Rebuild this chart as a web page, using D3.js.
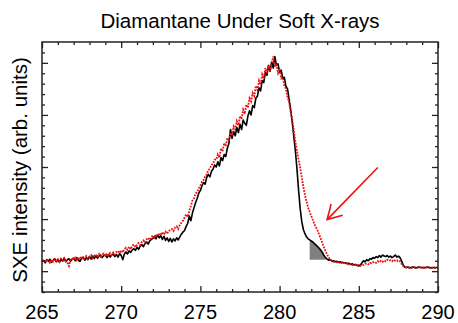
<!DOCTYPE html>
<html>
<head>
<meta charset="utf-8">
<script src="https://cdn.jsdelivr.net/npm/d3@7"></script>
<style>
  body { margin: 0; background: #fff; }
  text { font-family: "Liberation Sans", Arial, Helvetica, sans-serif; fill: #000; }
</style>
</head>
<body>
<div id="chart"></div>
<script>
// energy grid, 265 -> 290 eV every 0.1
var energy = d3.range(0, 251).map(function(i) { return +(265 + i * 0.1).toFixed(1); });

// black curve (one row per eV)
var blackSpectrum = [
  0.18,0.21,0.16,0.22,0.19,0.23,0.17,0.21,0.24,0.18,
  0.22,0.17,0.23,0.19,0.25,0.18,0.22,0.24,0.19,0.23,
  0.25,0.20,0.26,0.21,0.19,0.25,0.27,0.21,0.26,0.22,
  0.28,0.23,0.29,0.24,0.30,0.25,0.29,0.31,0.26,0.30,
  0.31,0.26,0.32,0.27,0.31,0.33,0.28,0.32,0.27,0.34,
  0.30,0.22,0.33,0.37,0.33,0.39,0.36,0.41,0.43,0.40,
  0.46,0.42,0.48,0.51,0.47,0.53,0.56,0.52,0.58,0.61,
  0.63,0.67,0.62,0.70,0.64,0.68,0.61,0.67,0.59,0.64,
  0.57,0.63,0.56,0.62,0.58,0.64,0.60,0.66,0.71,0.75,
  0.78,0.86,0.92,1.06,0.97,1.12,1.22,1.32,1.40,1.50,
  1.55,1.64,1.70,1.67,1.80,1.86,1.81,1.92,1.96,2.04,
  2.00,2.10,2.02,2.18,2.12,2.24,2.20,2.36,2.45,2.72,
  2.55,2.68,2.60,2.76,2.66,2.82,2.72,2.90,2.84,2.80,
  2.98,3.08,3.00,3.18,3.14,3.32,3.36,3.52,3.46,3.66,
  3.62,3.82,3.76,3.95,3.84,4.02,3.90,4.12,3.95,3.98,
  3.82,3.86,3.70,3.72,3.55,3.50,3.30,3.10,2.85,2.58,
  2.30,1.95,1.55,1.20,0.95,0.80,0.72,0.66,0.62,0.60,
  0.58,0.56,0.53,0.50,0.47,0.44,0.40,0.36,0.30,0.26,
  0.23,0.21,0.22,0.19,0.20,0.18,0.19,0.17,0.18,0.16,
  0.17,0.15,0.16,0.14,0.15,0.13,0.14,0.12,0.13,0.11,
  0.10,0.12,0.16,0.20,0.18,0.22,0.20,0.24,0.23,0.26,
  0.25,0.28,0.26,0.30,0.27,0.31,0.29,0.28,0.30,0.27,
  0.29,0.26,0.28,0.31,0.27,0.29,0.26,0.20,0.12,0.08,
  0.07,0.08,0.06,0.07,0.08,0.07,0.06,0.07,0.08,0.07,
  0.07,0.06,0.07,0.08,0.07,0.06,0.07,0.07,0.06,0.07,
  0.07
];

// red dotted curve
var redSpectrum = [
  0.19,0.22,0.17,0.23,0.20,0.16,0.22,0.18,0.23,0.20,
  0.23,0.18,0.24,0.20,0.25,0.19,0.17,0.10,0.22,0.24,
  0.22,0.26,0.21,0.27,0.23,0.28,0.22,0.27,0.29,0.24,
  0.28,0.31,0.25,0.30,0.32,0.27,0.33,0.28,0.32,0.34,
  0.29,0.34,0.30,0.35,0.31,0.36,0.32,0.37,0.39,0.35,
  0.40,0.36,0.42,0.45,0.41,0.47,0.42,0.49,0.51,0.46,
  0.51,0.54,0.50,0.56,0.59,0.55,0.61,0.64,0.60,0.66,
  0.68,0.64,0.71,0.67,0.73,0.69,0.75,0.70,0.76,0.72,
  0.77,0.79,0.81,0.77,0.84,0.86,0.81,0.89,0.93,0.97,
  1.03,1.09,1.04,1.16,1.25,1.36,1.40,1.49,1.52,1.59,
  1.64,1.72,1.75,1.82,1.86,1.94,1.97,2.04,2.06,2.14,
  2.14,2.24,2.18,2.36,2.30,2.46,2.40,2.56,2.50,2.66,
  2.60,2.78,2.72,2.88,2.80,2.98,2.92,3.10,3.02,3.20,
  3.14,3.32,3.26,3.42,3.36,3.56,3.48,3.66,3.58,3.78,
  3.70,3.90,3.80,3.96,3.84,4.00,4.12,3.92,3.98,3.80,
  3.86,3.70,3.72,3.56,3.50,3.34,3.24,3.04,2.92,2.70,
  2.48,2.30,2.14,1.98,1.80,1.62,1.46,1.34,1.22,1.14,
  1.06,0.98,0.90,0.84,0.78,0.70,0.62,0.54,0.46,0.38,
  0.32,0.26,0.22,0.20,0.18,0.19,0.17,0.18,0.16,0.17,
  0.15,0.16,0.14,0.15,0.13,0.14,0.12,0.13,0.12,0.11,
  0.12,0.10,0.13,0.12,0.14,0.15,0.13,0.16,0.15,0.17,
  0.18,0.16,0.19,0.17,0.20,0.18,0.21,0.19,0.22,0.20,
  0.21,0.19,0.22,0.20,0.21,0.18,0.19,0.14,0.10,0.08,
  0.07,0.08,0.07,0.06,0.07,0.08,0.07,0.07,0.06,0.07,
  0.07,0.07,0.06,0.07,0.08,0.07,0.06,0.07,0.07,0.06,
  0.07
];

var xTickLabels = [265, 270, 275, 280, 285, 290];
var yMajorTicks = [0, 1, 2, 3, 4];

// grey shaded region under the black shoulder
var shadeRange = [281.9, 282.9];
var shadeBase = 0.22;

// arrow (data coords): tail -> head
var arrowTail = [286.2, 1.99];
var arrowHead = [283.0, 0.99];

var margin = {top: 42, right: 20, bottom: 31, left: 42};
var width = 458 - margin.left - margin.right;
var height = 323 - margin.top - margin.bottom;

var svg = d3.select("#chart")
  .append("svg")
  .attr("width", 458)
  .attr("height", 323);

var g = svg.append("g")
  .attr("transform", "translate(" + margin.left + "," + margin.top + ")");

var x = d3.scaleLinear().domain([265, 290]).range([0, width]);
var y = d3.scaleLinear().domain([-0.4, 4.4]).range([height, 0]);

var black = energy.map(function(e, i) { return [e, blackSpectrum[i]]; });
var red = energy.map(function(e, i) { return [e, redSpectrum[i]]; });

var line = d3.line()
  .x(function(d) { return x(d[0]); })
  .y(function(d) { return y(d[1]); });

// shaded patch
var shade = black.filter(function(d) { return d[0] >= shadeRange[0] - 1e-6 && d[0] <= shadeRange[1] + 1e-6; });
g.append("path")
  .datum(shade)
  .attr("fill", "#808080")
  .attr("d", d3.area()
    .x(function(d) { return x(d[0]); })
    .y0(y(shadeBase))
    .y1(function(d) { return y(d[1]); }));

g.append("path")
  .datum(black)
  .attr("fill", "none")
  .attr("stroke", "#000")
  .attr("stroke-width", 1.6)
  .attr("stroke-linejoin", "round")
  .attr("d", line);

g.append("path")
  .datum(red)
  .attr("fill", "none")
  .attr("stroke", "#ee1111")
  .attr("stroke-width", 1.8)
  .attr("stroke-dasharray", "1.8,1.2")
  .attr("d", line);

// arrow
svg.append("defs").append("marker")
  .attr("id", "head")
  .attr("markerUnits", "userSpaceOnUse")
  .attr("viewBox", "-16 -10 18 20")
  .attr("refX", 0)
  .attr("refY", 0)
  .attr("markerWidth", 18)
  .attr("markerHeight", 20)
  .attr("orient", "auto")
  .append("path")
  .attr("d", "M-14,-8 L0,0 L-14,8")
  .attr("fill", "none")
  .attr("stroke", "#ee1111")
  .attr("stroke-width", 1.6);

g.append("line")
  .attr("x1", x(arrowTail[0]))
  .attr("y1", y(arrowTail[1]))
  .attr("x2", x(arrowHead[0]))
  .attr("y2", y(arrowHead[1]))
  .attr("stroke", "#ee1111")
  .attr("stroke-width", 1.6)
  .attr("marker-end", "url(#head)");

// axes, ticks inside on all four sides
function tickAxis(axisFn, scale, values, size, transform) {
  var a = g.append("g")
    .attr("transform", transform)
    .call(axisFn(scale).tickValues(values).tickSize(size).tickFormat(""));
  a.select(".domain").remove();
  a.selectAll("line").attr("stroke", "#222").attr("stroke-width", 1.3);
  return a;
}

var xMinor = d3.range(266, 290, 1).filter(function(v) { return v % 5 != 0; });
var yMinor = d3.range(-2, 22, 1).map(function(v) { return +(v * 0.2).toFixed(1); })
  .filter(function(v) { return yMajorTicks.indexOf(v) < 0; });

tickAxis(d3.axisBottom, x, xTickLabels, -6, "translate(0," + height + ")");
tickAxis(d3.axisBottom, x, xMinor, -3, "translate(0," + height + ")");
tickAxis(d3.axisTop, x, xTickLabels, -6, "translate(0,0)");
tickAxis(d3.axisTop, x, xMinor, -3, "translate(0,0)");
tickAxis(d3.axisLeft, y, yMajorTicks, -6, "translate(0,0)");
tickAxis(d3.axisLeft, y, yMinor, -3, "translate(0,0)");
tickAxis(d3.axisRight, y, yMajorTicks, -6, "translate(" + width + ",0)");
tickAxis(d3.axisRight, y, yMinor, -3, "translate(" + width + ",0)");

// x tick labels
g.selectAll(".xlab")
  .data(xTickLabels)
  .enter().append("text")
  .attr("class", "xlab")
  .attr("x", function(d) { return x(d); })
  .attr("y", height + 27)
  .attr("text-anchor", "middle")
  .attr("font-size", 20)
  .text(function(d) { return d; });

// frame
g.append("rect")
  .attr("width", width)
  .attr("height", height)
  .attr("fill", "none")
  .attr("stroke", "#222")
  .attr("stroke-width", 1.5);

svg.append("text")
  .attr("x", 240)
  .attr("y", 28)
  .attr("text-anchor", "middle")
  .attr("font-size", 20.5)
  .text("Diamantane Under Soft X-rays");

svg.append("text")
  .attr("transform", "translate(27," + (margin.top + 128) + ") rotate(-90)")
  .attr("text-anchor", "middle")
  .attr("font-size", 20.5)
  .text("SXE intensity (arb. units)");
</script>
</body>
</html>
